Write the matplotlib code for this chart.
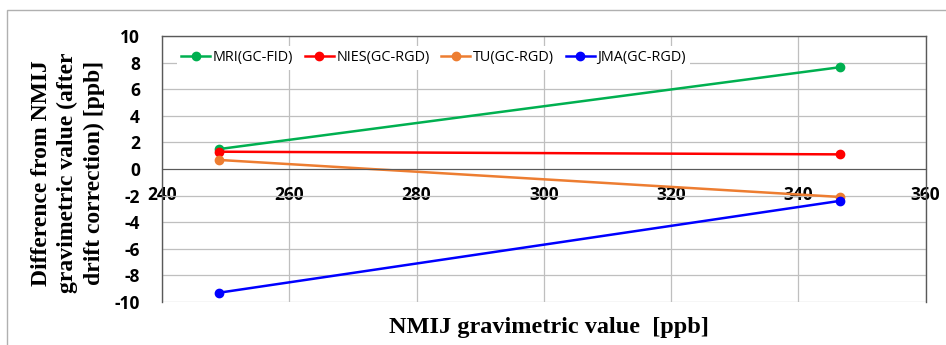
import matplotlib.pyplot as plt
from matplotlib.patches import Rectangle

plt.rcParams['axes.unicode_minus'] = False

# Date
x_vals = [249, 346.5]
mri = [1.5, 7.65]
nies = [1.3, 1.1]
tu = [0.68, -2.1]
jma = [-9.3, -2.4]

series = [
    ('MRI(GC-FID)', mri, '#00b050'),
    ('NIES(GC-RGD)', nies, '#ff0000'),
    ('TU(GC-RGD)', tu, '#ed7d31'),
    ('JMA(GC-RGD)', jma, '#0000ff'),
]

x_ticks = [240, 260, 280, 300, 320, 340, 360]
y_ticks = list(range(-10, 11, 2))

fig = plt.figure(figsize=(9.46, 3.45), dpi=100)
ax = fig.add_axes([162 / 946, 1 - 302 / 345, (925.5 - 162) / 946, (302 - 36) / 345])

# Chenar exterior
fig.patches.append(Rectangle((7 / 946, -0.1), 1.2, 1 - 10 / 345 + 0.1,
                             transform=fig.transFigure, fill=False,
                             edgecolor='#b0b0b0', linewidth=1.0))

for label, vals, color in series:
    ax.plot(x_vals, vals, '-o', color=color, linewidth=1.8, markersize=6, label=label)

ax.set_xlim(240, 360)
ax.set_ylim(-10, 10)
ax.set_xticks(x_ticks)
ax.set_yticks(y_ticks)
ax.grid(True, color='#bfbfbf', linewidth=0.9)
ax.set_axisbelow(True)

ax.spines['bottom'].set_position(('data', 0))
ax.spines['bottom'].set_color('#595959')
for s in ['left', 'right', 'top']:
    ax.spines[s].set_color('#595959')
    ax.spines[s].set_linewidth(1.0)

ax.tick_params(axis='y', length=0, pad=16)
ax.tick_params(axis='x', length=0, pad=12)
for lbl in ax.get_xticklabels() + ax.get_yticklabels():
    lbl.set_fontfamily('Open Sans')
    lbl.set_fontweight('bold')
    lbl.set_fontsize(12.5)

# Eticheta axei Y (3 randuri)
fig.text(68 / 946, 1 - 173 / 345,
         'Difference from NMIJ\ngravimetric value (after\ndrift correction) [ppb]',
         family='Liberation Serif', fontweight='bold', fontsize=17,
         rotation=90, ha='center', va='center', multialignment='center',
         linespacing=1.33)

fig.text(549 / 946, 1 - 327 / 345, 'NMIJ gravimetric value  [ppb]',
         family='Liberation Serif', fontweight='bold', fontsize=17.5,
         ha='center', va='center')

leg = ax.legend(loc='upper left', bbox_to_anchor=(0.01, 0.99), ncol=4,
                frameon=True, fancybox=False, edgecolor='none', framealpha=1,
                prop={'family': 'Open Sans', 'size': 10.4},
                handlelength=2.0, handletextpad=0.2, columnspacing=0.8,
                borderpad=0.3)

fig.savefig('out.png', dpi=100)
